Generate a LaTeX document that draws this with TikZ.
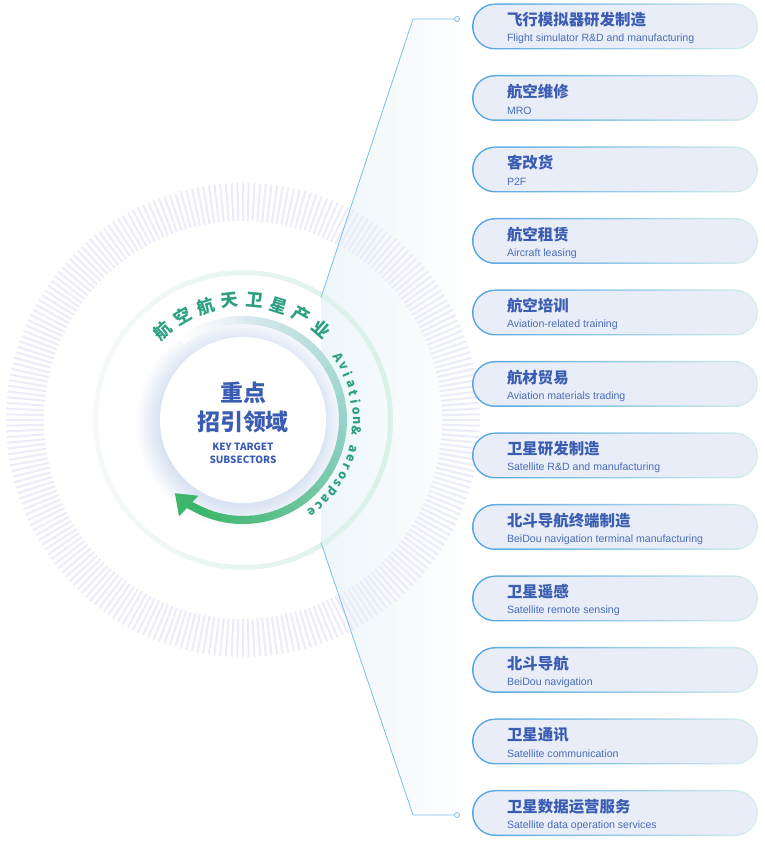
\documentclass[tikz,border=0pt]{standalone}
\usepackage{fontspec}
\setmainfont{Liberation Sans}
\newfontfamily\cjk{Noto Sans CJK SC}
\usetikzlibrary{arrows.meta,positioning,calc}
\definecolor{Ink}{HTML}{3A5DB3}
\definecolor{InkSoft}{HTML}{4A6DB8}
\definecolor{PillFill}{HTML}{E8EDF7}
\definecolor{RimBlue}{HTML}{4FA4E2}
\definecolor{RimMid}{HTML}{9CCFE8}
\definecolor{RimTeal}{HTML}{D8F0EC}
\definecolor{Wire}{HTML}{7CBDEB}
\definecolor{Hatch}{HTML}{ECEBF9}
\definecolor{Halo}{HTML}{DAE3F3}
\definecolor{RingSky}{HTML}{E2EBF3}
\definecolor{RingTeal}{HTML}{93D3C9}
\definecolor{RingGreen}{HTML}{3DB66B}
\definecolor{Sector}{HTML}{EDF6F9}
\definecolor{OrbitGreen}{HTML}{D9F1E6}
\definecolor{OrbitPale}{HTML}{F6F9FB}
\definecolor{Label}{HTML}{2DA082}
\pgfdeclareradialshading{halo}{\pgfpoint{0bp}{0bp}}{color(0bp)=(white); color(19.4bp)=(Halo); color(25bp)=(white); color(50bp)=(white)}

\begin{document}
\begin{tikzpicture}[x=1bp,y=1bp,
  pillrim/.style={rounded corners=23bp,minimum width=286bp,minimum height=46bp,inner sep=0pt,left color=RimBlue,middle color=RimMid,right color=RimTeal},
  pill/.style={rounded corners=21.5bp,minimum width=283bp,minimum height=43bp,inner sep=0pt,fill=PillFill},
  cn/.style={anchor=west,inner sep=0pt,text=Ink,font=\cjk\bfseries\fontsize{15.5}{16}\selectfont},
  en/.style={anchor=west,inner sep=0pt,text=InkSoft,font=\fontsize{10.6}{12}\selectfont},
  dot/.style={circle,draw=Wire,fill=white,line width=0.8bp,minimum size=5bp,inner sep=0pt},
  wire/.style={draw=Wire,line width=0.8bp},
  hub/.style={align=center,text=Ink,inner sep=0pt},
  arcchar/.style={inner sep=0pt,text=Label}
]
\useasboundingbox (0,0) rectangle (765,842);
\coordinate (c) at (243,422);
\coordinate (kneeTop) at (413,823);
\coordinate (kneeBot) at (413,27);
\coordinate (ringTop) at ($(c)+(57.5:145)$);
\coordinate (ringBot) at ($(c)+(-57.5:145)$);

% fan towards the list
\shade[left color=Sector,right color=white] (kneeTop) -- (470,823) -- (470,27) -- (kneeBot) -- (ringBot) -- (ringTop) -- cycle;

% hatched outer ring
\foreach \k in {0,...,259}
  \draw[Hatch,line width=2bp] (c) ++(\k*1.3846:199) -- ++(\k*1.3846:38);

% orbit, halo, arrow ring
\shade[left color=OrbitPale,right color=OrbitGreen,even odd rule] (c) circle[radius=150] (c) circle[radius=145];
\shade[shading=halo] ($(c)+(-2,-3)$) circle[radius=106];
\foreach \a in {128,125,...,-112} {
  \pgfmathsetmacro\pa{max(0,min(100,(100-\a)/1.0))}
  \pgfmathsetmacro\pb{max(0,-\a/1.12)}
  \pgfmathsetmacro\pw{max(0,min(100,(128-\a)*2.5))}
  \colorlet{arcmix}{RingTeal!\pa!RingSky}
  \colorlet{arcmix}{RingGreen!\pb!arcmix}
  \colorlet{arcmix}{arcmix!\pw!white}
  \draw[line width=8bp,arcmix] (c) ++(\a:100) arc[start angle=\a,end angle=\a-3.6,radius=100];
}
\draw[line width=8bp,RingGreen,-{Triangle[length=19bp,width=27bp]}] (c) ++(-114:100) arc[start angle=-114,end angle=-133,radius=100];
\fill[white] (c) circle[radius=83];

\node[hub,font=\cjk\bfseries\fontsize{23}{29}\selectfont] (hubcn) at (243,435) {重点\\招引领域};
\node[hub,font=\cjk\bfseries\fontsize{10}{13}\selectfont] (huben) at (243,388.5) {KEY TARGET\\SUBSECTORS};

% curved labels, one glyph at a time
\foreach \ch [count=\j] in {航,空,航,天,卫,星,产,业}
  \node[arcchar,font=\cjk\bfseries\fontsize{17.5}{17.5}\selectfont,rotate={132-11.86*(\j-1)-90}]
    (zh\j) at ($(c)+({132-11.86*(\j-1)}:120)$) {\ch};
\foreach \ch [count=\j] in {A,v,i,a,t,i,o,n,\&,{},a,e,r,o,s,p,a,c,e}
  \node[arcchar,font=\cjk\bfseries\fontsize{12.5}{12.5}\selectfont,rotate={33-4.78*(\j-1)-90}]
    (lat\j) at ($(c)+({33-4.78*(\j-1)}:114)$) {\ch};

% connectors
\node[dot] (dotTop) at (457,823) {};
\node[dot] (dotBot) at (457,27) {};
\draw[wire] (dotTop) -- (kneeTop) -- (ringTop);
\draw[wire] (dotBot) -- (kneeBot) -- (ringBot);

% subsector list
\foreach \zhname/\enname [count=\i] in {
  飞行模拟器研发制造/Flight simulator R\&D and manufacturing,
  航空维修/MRO,
  客改货/P2F,
  航空租赁/Aircraft leasing,
  航空培训/Aviation-related training,
  航材贸易/Aviation materials trading,
  卫星研发制造/Satellite R\&D and manufacturing,
  北斗导航终端制造/BeiDou navigation terminal manufacturing,
  卫星遥感/Satellite remote sensing,
  北斗导航/BeiDou navigation,
  卫星通讯/Satellite communication,
  卫星数据运营服务/Satellite data operation services} {
  \node[pillrim] (rim\i) at (615,{815.5-71.5*(\i-1)}) {};
  \node[pill] (pill\i) at (rim\i) {};
  \node[cn] (cn\i) at ([xshift=35bp,yshift=6.5bp]rim\i.west) {\zhname};
  \node[en] (en\i) at ([xshift=35bp,yshift=-12.5bp]rim\i.west) {\enname};
}
\end{tikzpicture}
\end{document}
